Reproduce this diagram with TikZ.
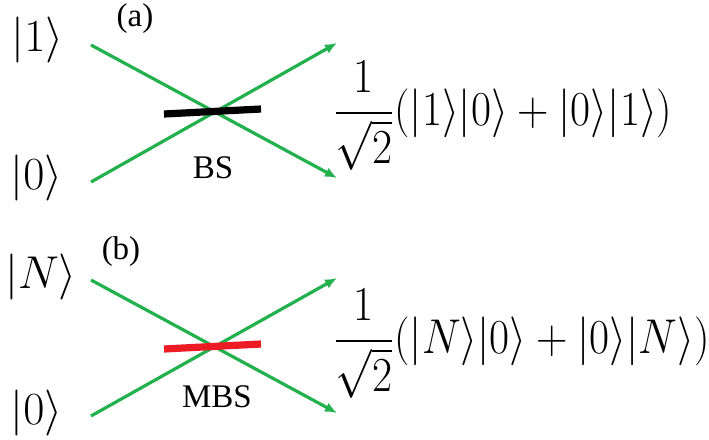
\RequirePackage{fix-cm}
\documentclass[tikz,border=0pt]{standalone}
\usepackage{amsmath,amssymb}
\usepackage{graphicx}
\usepackage{fontspec}
\usepackage{xcolor}
\usetikzlibrary{arrows.meta,positioning}
\newfontfamily\labelfont{Liberation Serif}
\definecolor{BeamGreen}{HTML}{22B14C}
\definecolor{SplitRed}{HTML}{ED1C24}
\newcommand{\tallstate}[1]{\scalebox{1}[1.12]{#1}}

\begin{document}
\begin{tikzpicture}[x=0.5pt, y=-0.5pt, >={Latex[length=6pt,width=5pt]},
  beam/.style={draw=BeamGreen, line width=1.6pt},
  splitter/.style={line width=3.6pt},
  ket/.style={inner sep=0pt, font=\fontsize{23}{27}\selectfont},
  outstate/.style={inner sep=0pt, anchor=west, font=\fontsize{21.8}{26}\selectfont},
  tag/.style={inner sep=0pt, font=\labelfont\fontsize{16.5}{19}\selectfont}]

\useasboundingbox (0,0) rectangle (709,440);

% (a) beam splitter
\node[ket] (inOneA) at (37.5,39.5) {$|1\rangle$};
\node[ket] (inZeroA) at (36.5,178) {$|0\rangle$};
\node[tag] (labelA) at (135,19) {(a)};
\coordinate (startTopA) at (91,45);
\coordinate (startBotA) at (91,182);
\coordinate (endTopA) at (337,43);
\coordinate (endBotA) at (337,178);
\draw[beam,->] (startTopA) -- (endBotA);
\draw[beam,->] (startBotA) -- (endTopA);
\coordinate (bsLeft) at (164,114);
\coordinate (bsRight) at (261,109);
\draw[splitter,black] (bsLeft) -- (bsRight);
\node[tag] (bs) at (213,168) {BS};
\node[outstate] (outA) at (333,115.5)
  {\tallstate{$\dfrac{1}{\sqrt{2}}(|1\rangle|0\rangle+|0\rangle|1\rangle)$}};

% (b) multiport beam splitter
\node[ket] (inNB) at (41,277) {$|N\rangle$};
\node[ket] (inZeroB) at (36.5,413) {$|0\rangle$};
\node[tag] (labelB) at (121,252) {(b)};
\coordinate (startTopB) at (91,280);
\coordinate (startBotB) at (91,416);
\coordinate (endTopB) at (337,278);
\coordinate (endBotB) at (337,413);
\draw[beam,->] (startTopB) -- (endBotB);
\draw[beam,->] (startBotB) -- (endTopB);
\coordinate (mbsLeft) at (164,349);
\coordinate (mbsRight) at (261,344);
\draw[splitter,SplitRed] (mbsLeft) -- (mbsRight);
\node[tag] (mbs) at (217,397) {MBS};
\node[outstate] (outB) at (333,343.5)
  {\tallstate{$\dfrac{1}{\sqrt{2}}(|N\rangle|0\rangle+|0\rangle|N\rangle)$}};
\end{tikzpicture}
\end{document}
